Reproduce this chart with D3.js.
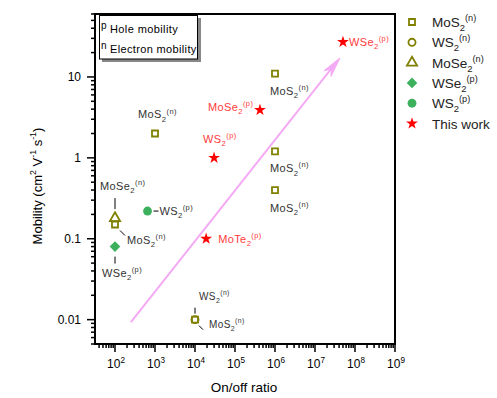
<!DOCTYPE html>
<html><head><meta charset="utf-8">
<script src="https://cdn.jsdelivr.net/npm/d3@7"></script>
<style>body{margin:0;background:#fff}svg{display:block;font-family:"Liberation Sans",Arial,sans-serif}</style>
</head><body><svg id="c" width="497" height="398"></svg>
<script>
// ---- data ----
const mos2n = [[1e6, 11], [1e3, 2], [1e6, 1.2], [1e6, 0.4], [100, 0.15], [1e4, 0.01]];
const ws2n = [[1e4, 0.01]];
const mose2n = [[100, 0.18]];
const wse2p = [[100, 0.08]];
const ws2p = [[650, 0.22]];
const thisWork = [[5e7, 27], [4.2e5, 3.9], [3e4, 1.0], [1.9e4, 0.1]];
const xTickExp = [2, 3, 4, 5, 6, 7, 8, 9];
const yTickVals = [0.01, 0.1, 1, 10];
const yTickText = ["0.01", "0.1", "1", "10"];
const legendNames = ["MoS{_2}{^(n)}", "WS{_2}{^(n)}", "MoSe{_2}{^(n)}", "WSe{_2}{^(p)}", "WS{_2}{^(p)}", "This work"];
const trendArrow = [[250, 0.0093], [4.2e7, 17.2]];

const svg = d3.select("#c");
const x = d3.scaleLog().domain([Math.pow(10, 1.5), 1e9]).range([95, 395]);
const y = d3.scaleLog().domain([0.005, 60]).range([344, 14]);

const OLIVE = "#808000", GREEN = "#3cb05c", RED = "#ff0000", LRED = "#ff3b3b", GRAY = "#333";

function rich(g, str, size, color) {
  const t = g.append("text").attr("font-size", size).attr("fill", color);
  const re = /(\{_[^}]*\}|\{\^[^}]*\})/;
  let off = 0;
  str.split(re).filter(s => s && s.length).forEach(p => {
    let target = 0, fs = size, txt = p;
    if (p.startsWith("{_")) { target = size * 0.3; fs = size * 0.7; txt = p.slice(2, -1); }
    else if (p.startsWith("{^")) { target = -size * 0.45; fs = size * 0.68; txt = p.slice(2, -1); }
    t.append("tspan").attr("dy", target - off).attr("font-size", fs).text(txt);
    off = target;
  });
  return t;
}

// arrow
const a0 = [x(trendArrow[0][0]), y(trendArrow[0][1])], a1 = [x(trendArrow[1][0]), y(trendArrow[1][1])];
const PINK = "#f4aaf4";
svg.append("line").attr("x1", a0[0]).attr("y1", a0[1]).attr("x2", a1[0] - 8).attr("y2", a1[1] + 10)
  .attr("stroke", PINK).attr("stroke-width", 2);
{
  const ang = Math.atan2(a1[1] - a0[1], a1[0] - a0[0]);
  const L = 20, W = 4.5;
  const bx = a1[0] - L * Math.cos(ang), by = a1[1] - L * Math.sin(ang);
  const px = -Math.sin(ang) * W, py = Math.cos(ang) * W;
  svg.append("path").attr("d", `M${a1[0]},${a1[1]}L${bx + px},${by + py}L${a1[0] - 14 * Math.cos(ang)},${a1[1] - 14 * Math.sin(ang)}L${bx - px},${by - py}Z`)
    .attr("fill", PINK).attr("stroke", PINK).attr("stroke-width", 1);
}

// axes ticks
const xMinor = [], yMinor = [];
for (let e = 1; e <= 8; e++) for (let m = 2; m <= 9; m++) { const v = m * Math.pow(10, e); if (v >= x.domain()[0] && v <= 1e9) xMinor.push(v); }
for (let e = -3; e <= 1; e++) for (let m = 2; m <= 9; m++) { const v = m * Math.pow(10, e); if (v >= 0.005 && v <= 60) yMinor.push(v); }
const ax = svg.append("g");
ax.selectAll(".xm").data(xMinor).join("line").attr("x1", d => x(d)).attr("x2", d => x(d)).attr("y1", 344).attr("y2", 348).attr("stroke", "#000").attr("stroke-width", 1.5);
ax.selectAll(".xM").data(xTickExp).join("line").attr("x1", d => x(Math.pow(10, d))).attr("x2", d => x(Math.pow(10, d))).attr("y1", 344).attr("y2", 352).attr("stroke", "#000").attr("stroke-width", 1.5);
ax.selectAll(".ym").data(yMinor).join("line").attr("y1", d => y(d)).attr("y2", d => y(d)).attr("x1", 91).attr("x2", 95).attr("stroke", "#000").attr("stroke-width", 1.5);
ax.selectAll(".yM").data(yTickVals).join("line").attr("y1", d => y(d)).attr("y2", d => y(d)).attr("x1", 87).attr("x2", 95).attr("stroke", "#000").attr("stroke-width", 1.5);
xTickExp.forEach(e => {
  rich(ax, "10{^" + e + "}", 12, "#000").attr("x", x(Math.pow(10, e)) + 1).attr("y", 368).attr("text-anchor", "middle");
});
yTickVals.forEach((v, i) => {
  ax.append("text").attr("x", 81).attr("y", y(v) + 4.5).attr("text-anchor", "end").attr("font-size", 12).text(yTickText[i]);
});
svg.append("rect").attr("x", 95).attr("y", 14).attr("width", 300).attr("height", 330).attr("fill", "none").attr("stroke", "#000").attr("stroke-width", 2);

// titles
svg.append("text").attr("x", 244).attr("y", 392).attr("text-anchor", "middle").attr("font-size", 13.5).text("On/off ratio");
rich(svg, "Mobility (cm{^2} V{^-1} s{^-1})", 13, "#000").attr("text-anchor", "middle")
  .attr("transform", "translate(42,186) rotate(-90)");

// markers
const sym = (type, size) => d3.symbol().type(type).size(size)();
const plot = svg.append("g");
plot.selectAll(".sq").data(mos2n).join("path").attr("d", sym(d3.symbolSquare, 36))
  .attr("transform", d => `translate(${x(d[0])},${y(d[1])})`).attr("fill", "#fff").attr("stroke", OLIVE).attr("stroke-width", 1.8);
plot.selectAll(".ci").data(ws2n).join("path").attr("d", sym(d3.symbolCircle, 40))
  .attr("transform", d => `translate(${x(d[0])},${y(d[1])})`).attr("fill", "none").attr("stroke", OLIVE).attr("stroke-width", 1.8);
plot.selectAll(".tr").data(mose2n).join("path").attr("d", sym(d3.symbolTriangle, 45))
  .attr("transform", d => `translate(${x(d[0])},${y(d[1])})`).attr("fill", "none").attr("stroke", OLIVE).attr("stroke-width", 1.8);
plot.selectAll(".di").data(wse2p).join("path").attr("d", sym(d3.symbolSquare, 56))
  .attr("transform", d => `translate(${x(d[0])},${y(d[1])}) rotate(45)`).attr("fill", GREEN);
plot.selectAll(".gc").data(ws2p).join("path").attr("d", sym(d3.symbolCircle, 62))
  .attr("transform", d => `translate(${x(d[0])},${y(d[1])})`).attr("fill", GREEN);
plot.selectAll(".st").data(thisWork).join("path").attr("d", sym(d3.symbolStar, 44))
  .attr("transform", d => `translate(${x(d[0])},${y(d[1])})`).attr("fill", RED);

// annotations (pixel offsets from data points)
const ann = svg.append("g").attr("letter-spacing", 0.4);
function lab(pt, dx, dy, str, color, size) {
  rich(ann, str, size || 11, color).attr("x", x(pt[0]) + dx).attr("y", y(pt[1]) + dy);
}
function lead(pt, x1, y1, x2, y2) {
  ann.append("line").attr("x1", x(pt[0]) + x1).attr("y1", y(pt[1]) + y1).attr("x2", x(pt[0]) + x2).attr("y2", y(pt[1]) + y2)
    .attr("stroke", "#000").attr("stroke-width", 1);
}
lab(mos2n[0], -5, 21.5, "MoS{_2}{^(n)}", GRAY);
lab(mos2n[1], -17, -15, "MoS{_2}{^(n)}", GRAY);
lab(mos2n[2], -5, 21, "MoS{_2}{^(n)}", GRAY);
lab(mos2n[3], -5, 21.5, "MoS{_2}{^(n)}", GRAY);
lab(mos2n[4], 12, 19, "MoS{_2}{^(n)}", GRAY);
lead(mos2n[4], 5, 6, 10, 11);
lab(mos2n[5], 14, 8, "MoS{_2}{^(n)}", GRAY, 10);
lead(mos2n[5], 4, 6, 8, 10);
lab(ws2n[0], 4, -20, "WS{_2}{^(n)}", GRAY, 10);
lead(ws2n[0], 0, -12, 0, -6);
lab(mose2n[0], -15, -28, "MoSe{_2}{^(n)}", GRAY);
lead(mose2n[0], 0, -20, 0, -9);
lab(wse2p[0], -13, 30, "WSe{_2}{^(p)}", GRAY);
lead(wse2p[0], 0, 10, 0, 17);
lab(ws2p[0], 12, 4, "WS{_2}{^(p)}", GRAY);
lead(ws2p[0], 6, 0, 11, 0);
lab(thisWork[0], 6, 4, "WSe{_2}{^(p)}", LRED);
lab(thisWork[1], -52, 1, "MoSe{_2}{^(p)}", LRED);
lab(thisWork[2], -11, -15, "WS{_2}{^(p)}", LRED);
lab(thisWork[3], 12, 4, "MoTe{_2}{^(p)}", LRED);

// inset legend
const ins = svg.append("g");
ins.append("rect").attr("x", 102).attr("y", 18).attr("width", 99).attr("height", 44).attr("fill", "#888");
ins.append("rect").attr("x", 99.5).attr("y", 15.5).attr("width", 98).attr("height", 43.5).attr("fill", "#fff").attr("stroke", "#000").attr("stroke-width", 1);
ins.append("text").attr("x", 101).attr("y", 29).attr("font-size", 10).text("p");
ins.append("text").attr("x", 110).attr("y", 33).attr("font-size", 11).attr("letter-spacing", 0.4).text("Hole mobility");
ins.append("text").attr("x", 101).attr("y", 49).attr("font-size", 10).text("n");
ins.append("text").attr("x", 110).attr("y", 53).attr("font-size", 11).attr("letter-spacing", 0.35).text("Electron mobility");

// right legend
const lg = svg.append("g");
const legSyms = [
  {d: sym(d3.symbolSquare, 36), fill: "#fff", stroke: OLIVE, rot: 0},
  {d: sym(d3.symbolCircle, 40), fill: "#fff", stroke: OLIVE, rot: 0},
  {d: sym(d3.symbolTriangle, 45), fill: "#fff", stroke: OLIVE, rot: 0},
  {d: sym(d3.symbolSquare, 56), fill: GREEN, stroke: "none", rot: 45},
  {d: sym(d3.symbolCircle, 62), fill: GREEN, stroke: "none", rot: 0},
  {d: sym(d3.symbolStar, 44), fill: RED, stroke: "none", rot: 0}
];
legendNames.forEach((n, i) => {
  const cy = 22 + i * 20.3;
  const s = legSyms[i];
  lg.append("path").attr("d", s.d).attr("transform", `translate(412,${cy}) rotate(${s.rot})`)
    .attr("fill", s.fill).attr("stroke", s.stroke).attr("stroke-width", 1.8);
  rich(lg, n, 13.5, "#222").attr("x", 432).attr("y", cy + 5);
});
</script></body></html>
